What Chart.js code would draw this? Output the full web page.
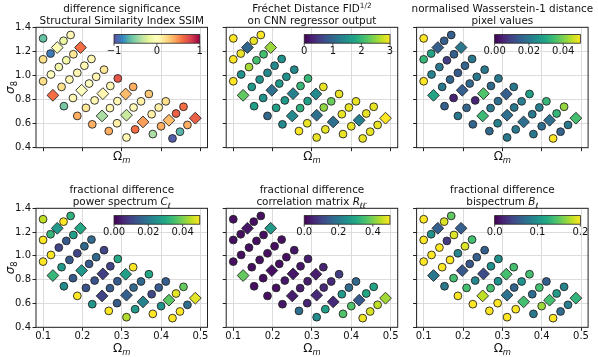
<!DOCTYPE html>
<html>
<head>
<meta charset="utf-8">
<script src="https://cdn.jsdelivr.net/npm/chart.js@4.4.1/dist/chart.umd.min.js"></script>
<style>
  html, body { margin: 0; padding: 0; background: #fff; }
  #wrap { position: relative; width: 598px; height: 357px; }
  #wrap canvas { position: absolute; left: 0; top: 0; }
</style>
</head>
<body>
<div id="wrap"></div>
<script>
// six panels over the same grid of cosmologies (Omega_m, sigma_8)

const FONT = "'DejaVu Sans', sans-serif";

const omegaM = [
  0.100,
  0.100, 0.119, 0.136, 0.152, 0.170,
  0.100, 0.120, 0.140, 0.159, 0.177, 0.195,
  0.125, 0.147, 0.167, 0.187, 0.205, 0.223,
  0.153, 0.176, 0.198, 0.217, 0.235, 0.255,
  0.187, 0.209, 0.231, 0.252, 0.271, 0.290,
  0.225, 0.250, 0.270, 0.289, 0.310, 0.329,
  0.267, 0.288, 0.312, 0.330, 0.349, 0.369,
  0.312, 0.334, 0.354, 0.376, 0.394, 0.412,
  0.379, 0.400, 0.420, 0.438, 0.457,
  0.429, 0.448, 0.467, 0.487
];
const sigma8 = [
  1.308,
  1.134, 1.182, 1.232, 1.288, 1.336,
  0.952, 1.008, 1.070, 1.126, 1.176, 1.232,
  0.835, 0.905, 0.966, 1.022, 1.081, 1.137,
  0.745, 0.813, 0.877, 0.933, 0.989, 1.048,
  0.664, 0.731, 0.793, 0.849, 0.913, 0.975,
  0.594, 0.664, 0.729, 0.787, 0.846, 0.905,
  0.538, 0.603, 0.670, 0.734, 0.785, 0.846,
  0.485, 0.552, 0.614, 0.678, 0.734, 0.785,
  0.513, 0.578, 0.628, 0.684, 0.740,
  0.477, 0.533, 0.589, 0.645
];
// points drawn as diamonds, all others are circles
const diamondIdx = [3, 11, 12, 20, 27, 31, 34, 38, 44, 50, 56];

const ssimSig = [
  -0.6,
  0.2, -0.85, -0.05, -0.15, 0.05,
  0.2, 0.0, -0.1, -0.1, 0.15, 0.6,
  0.6, 0.2, 0.05, 0.05, 0.05, 0.05,
  -0.55, 0.05, 0.0, 0.0, 0.05, 0.15,
  0.4, 0.15, 0.05, 0.05, 0.05, 0.7,
  0.4, -0.4, 0.05, 0.05, 0.35, 0.4,
  0.4, 0.1, -0.3, 0.05, 0.1, 0.3,
  0.05, 0.6, 0.45, 0.1, 0.1, 0.2,
  -0.4, 0.4, 0.35, 0.65, 0.6,
  -0.95, -0.65, 0.4, 0.65
];
const fidCnn = [
  3.0,
  3.0, 2.9, 1.0, 2.9, 3.0,
  3.0, 1.5, 2.6, 2.1, 2.1, 2.55,
  2.25, 1.6, 1.5, 1.4, 1.4, 1.5,
  1.7, 1.5, 1.1, 1.6, 1.5, 1.4,
  1.0, 1.7, 1.6, 1.3, 2.0, 2.0,
  1.4, 1.4, 1.9, 1.7, 1.4, 2.9,
  3.0, 2.9, 1.1, 2.5, 2.3, 2.9,
  2.9, 2.9, 1.1, 2.9, 2.9, 2.9,
  2.9, 2.9, 1.3, 2.9, 2.9,
  2.9, 2.9, 2.9, 3.0
];
const wassPix = [
  0.050,
  0.033, 0.029, 0.015, 0.015, 0.015,
  0.050, 0.022, 0.020, 0.009, 0.015, 0.020,
  0.029, 0.020, 0.016, 0.014, 0.016, 0.020,
  0.015, 0.005, 0.015, 0.017, 0.020, 0.020,
  0.020, 0.016, 0.005, 0.036, 0.017, 0.020,
  0.016, 0.034, 0.020, 0.018, 0.015, 0.020,
  0.017, 0.022, 0.018, 0.020, 0.021, 0.028,
  0.020, 0.020, 0.018, 0.020, 0.021, 0.033,
  0.020, 0.018, 0.018, 0.033, 0.042,
  0.050, 0.016, 0.020, 0.035
];
const powerCl = [
  0.045,
  0.050, 0.033, 0.027, 0.050, 0.032,
  0.050, 0.050, 0.010, 0.014, 0.028, 0.030,
  0.033, 0.027, 0.014, 0.010, 0.017, 0.017,
  0.024, 0.014, 0.026, 0.014, 0.017, 0.010,
  0.050, 0.013, 0.013, 0.009, 0.010, 0.030,
  0.026, 0.010, 0.014, 0.014, 0.028, 0.050,
  0.050, 0.014, 0.015, 0.017, 0.017, 0.030,
  0.044, 0.027, 0.022, 0.011, 0.014, 0.015,
  0.050, 0.025, 0.037, 0.048, 0.038,
  0.050, 0.050, 0.018, 0.048
];
const corrR = [
  0.02,
  0.02, 0.02, 0.03, 0.02, 0.02,
  0.02, 0.02, 0.02, 0.02, 0.02, 0.27,
  0.38, 0.02, 0.02, 0.02, 0.02, 0.02,
  0.02, 0.02, 0.02, 0.02, 0.02, 0.03,
  0.02, 0.02, 0.03, 0.03, 0.03, 0.04,
  0.03, 0.04, 0.04, 0.04, 0.04, 0.05,
  0.18, 0.05, 0.06, 0.06, 0.06, 0.09,
  0.24, 0.28, 0.06, 0.27, 0.17, 0.17,
  0.36, 0.36, 0.14, 0.30, 0.29,
  0.49, 0.47, 0.45, 0.43
];
const bispecB = [
  0.20,
  0.20, 0.10, 0.06, 0.19, 0.15,
  0.20, 0.20, 0.20, 0.035, 0.19, 0.06,
  0.08, 0.20, 0.20, 0.09, 0.19, 0.14,
  0.08, 0.14, 0.055, 0.055, 0.06, 0.06,
  0.20, 0.14, 0.09, 0.045, 0.10, 0.10,
  0.20, 0.18, 0.14, 0.10, 0.14, 0.14,
  0.20, 0.20, 0.075, 0.065, 0.10, 0.14,
  0.20, 0.20, 0.14, 0.07, 0.14, 0.06,
  0.08, 0.17, 0.14, 0.11, 0.09,
  0.20, 0.07, 0.085, 0.13
];

const xTicks = [0.1, 0.2, 0.3, 0.4, 0.5];
const yTicks = [0.4, 0.6, 0.8, 1.0, 1.2, 1.4];

const viridisStops = ['#440154', '#482475', '#414487', '#355f8d', '#2a788e', '#21918c',
                      '#22a884', '#44bf70', '#7ad151', '#bddf26', '#fde725'];
const spectralRStops = ['#5e4fa2', '#3288bd', '#66c2a5', '#abdda4', '#e6f598', '#ffffbf',
                        '#fee08b', '#fdae61', '#f46d43', '#d53e4f', '#9e0142'];

const panels = [
  { row: 0, col: 0, values: ssimSig, stops: spectralRStops, vmin: -1, vmax: 1,
    cbTicks: [-1, 0, 1], cbLabels: ['\u22121', '0', '1'],
    title: [[{ t: 'difference significance' }], [{ t: 'Structural Similarity Index SSIM' }]] },
  { row: 0, col: 1, values: fidCnn, stops: viridisStops, vmin: 0, vmax: 3,
    cbTicks: [0, 1, 2, 3], cbLabels: ['0', '1', '2', '3'],
    title: [[{ t: 'Fr\u00e9chet Distance FID' }, { t: '1/2', sup: true }], [{ t: 'on CNN regressor output' }]] },
  { row: 0, col: 2, values: wassPix, stops: viridisStops, vmin: 0, vmax: 0.05,
    cbTicks: [0, 0.02, 0.04], cbLabels: ['0.00', '0.02', '0.04'],
    title: [[{ t: 'normalised Wasserstein-1 distance' }], [{ t: 'pixel values' }]] },
  { row: 1, col: 0, values: powerCl, stops: viridisStops, vmin: 0, vmax: 0.05,
    cbTicks: [0, 0.02, 0.04], cbLabels: ['0.00', '0.02', '0.04'],
    title: [[{ t: 'fractional difference' }], [{ t: 'power spectrum ' }, { t: 'C', it: true }, { t: '\u2113', it: true, sub: true }]] },
  { row: 1, col: 1, values: corrR, stops: viridisStops, vmin: 0, vmax: 0.5,
    cbTicks: [0, 0.2, 0.4], cbLabels: ['0.0', '0.2', '0.4'],
    title: [[{ t: 'fractional difference' }], [{ t: 'correlation matrix ' }, { t: 'R', it: true }, { t: '\u2113\u2113\u2032', it: true, sub: true }]] },
  { row: 1, col: 2, values: bispecB, stops: viridisStops, vmin: 0, vmax: 0.2,
    cbTicks: [0, 0.1, 0.2], cbLabels: ['0.0', '0.1', '0.2'],
    title: [[{ t: 'fractional difference' }], [{ t: 'bispectrum ' }, { t: 'B', it: true }, { t: '\u2113', it: true, sub: true }]] }
];

// plot area boxes
const colLeft = [36, 226.2, 416.6];
const plotW = 171.5;
const rowTop = [27.3, 208.3];
const rowH = [120.4, 119];
const Y_W = 30, X_H = 20;
const W = 598, H = 357;

function hexRgb(h) {
  return [parseInt(h.slice(1, 3), 16), parseInt(h.slice(3, 5), 16), parseInt(h.slice(5, 7), 16)];
}

function cmapColor(stops, t) {
  t = Math.max(0, Math.min(1, t));
  const pos = t * (stops.length - 1);
  const i = Math.min(stops.length - 2, Math.floor(pos));
  const f = pos - i;
  const a = hexRgb(stops[i]), b = hexRgb(stops[i + 1]);
  const c = a.map((v, k) => Math.round(v + (b[k] - v) * f));
  return 'rgb(' + c.join(',') + ')';
}

// draw a line of text made of runs (italic / sub / sup), centred on cx
function drawRuns(ctx, runs, cx, cy, size) {
  const parts = runs.map(r => {
    const s = (r.sub || r.sup) ? size * 0.7 : size;
    const font = (r.it ? 'italic ' : '') + s + 'px ' + FONT;
    ctx.font = font;
    return { t: r.t, font, w: ctx.measureText(r.t).width, dy: r.sub ? size * 0.25 : (r.sup ? -size * 0.42 : 0) };
  });
  const total = parts.reduce((s, p) => s + p.w, 0);
  let x = cx - total / 2;
  const base = cy + size * 0.36;
  ctx.textAlign = 'left';
  ctx.textBaseline = 'alphabetic';
  parts.forEach(p => {
    ctx.font = p.font;
    ctx.fillText(p.t, x, base + p.dy);
    x += p.w;
  });
}

const decorPlugin = {
  id: 'panelDecor',
  afterDraw(chart, args, opts) {
    const p = opts.panel;
    const ctx = chart.ctx;
    const a = chart.chartArea;
    const w = a.right - a.left, h = a.bottom - a.top;
    ctx.save();

    // frame
    ctx.strokeStyle = '#222';
    ctx.lineWidth = 1;
    ctx.strokeRect(a.left, a.top, w, h);

    // inset colour bar
    const bx = a.left + 0.455 * w, bw = 0.5 * w;
    const by = a.top + 7.3, bh = 8.6;
    const grad = ctx.createLinearGradient(bx, 0, bx + bw, 0);
    p.stops.forEach((c, k) => grad.addColorStop(k / (p.stops.length - 1), c));
    ctx.fillStyle = grad;
    ctx.fillRect(bx, by, bw, bh);
    ctx.lineWidth = 0.8;
    ctx.strokeRect(bx, by, bw, bh);
    ctx.fillStyle = '#111';
    ctx.font = '10px ' + FONT;
    ctx.textAlign = 'center';
    ctx.textBaseline = 'middle';
    p.cbTicks.forEach((v, k) => {
      const tx = bx + (v - p.vmin) / (p.vmax - p.vmin) * bw;
      ctx.beginPath();
      ctx.moveTo(tx, by + bh);
      ctx.lineTo(tx, by + bh + 2.5);
      ctx.stroke();
      ctx.fillText(p.cbLabels[k], tx, by + bh + 8);
    });

    // title
    const cx = (a.left + a.right) / 2;
    drawRuns(ctx, p.title[0], cx, a.top - 19, 10.4);
    drawRuns(ctx, p.title[1], cx, a.top - 7, 10.4);

    // axis labels
    drawRuns(ctx, [{ t: '\u03a9' }, { t: 'm', it: true, sub: true }], cx, a.bottom + (p.row === 1 ? 20 : 7.5), 12);
    if (p.col === 0) {
      ctx.translate(10, (a.top + a.bottom) / 2);
      ctx.rotate(-Math.PI / 2);
      drawRuns(ctx, [{ t: '\u03c3', it: true }, { t: '8', sub: true }], 0, 0, 12);
    }
    ctx.restore();
  }
};

const wrap = document.getElementById('wrap');

function makePanel(p) {
  const canvas = document.createElement('canvas');
  canvas.width = W;
  canvas.height = H;
  wrap.appendChild(canvas);

  const left = colLeft[p.col], top = rowTop[p.row];
  const right = left + plotW, bottom = top + rowH[p.row];
  const pts = omegaM.map((x, i) => ({ x: x, y: sigma8[i], v: p.values[i] }));
  const circles = pts.filter((d, i) => !diamondIdx.includes(i));
  const diamonds = pts.filter((d, i) => diamondIdx.includes(i));
  const fill = c => cmapColor(p.stops, (c.raw.v - p.vmin) / (p.vmax - p.vmin));

  const gridOpts = { color: '#dcdcdc', lineWidth: 1, tickLength: 3.5, tickColor: '#222', drawTicks: true };
  const tickFont = { family: FONT, size: 10 };

  new Chart(canvas, {
    type: 'scatter',
    data: {
      datasets: [
        { data: circles, pointStyle: 'circle', pointRadius: 3.9, backgroundColor: fill,
          borderColor: '#262626', borderWidth: 0.9 },
        { data: diamonds, pointStyle: 'rectRot', pointRadius: 5.9, backgroundColor: fill,
          borderColor: '#262626', borderWidth: 0.9 }
      ]
    },
    options: {
      responsive: false,
      animation: false,
      devicePixelRatio: 1,
      events: [],
      layout: { padding: { left: left - Y_W, top: top, right: W - right, bottom: H - bottom - X_H } },
      plugins: {
        legend: { display: false },
        tooltip: { enabled: false },
        panelDecor: { panel: p }
      },
      scales: {
        x: {
          type: 'linear', min: 0.082, max: 0.518,
          afterBuildTicks: ax => { ax.ticks = xTicks.map(v => ({ value: v })); },
          afterFit: s => { s.height = X_H; },
          grid: gridOpts,
          border: { display: false },
          ticks: { display: p.row === 1, font: tickFont, color: '#111', padding: 0,
                   maxRotation: 0, autoSkip: false, callback: v => v.toFixed(1) }
        },
        y: {
          type: 'linear', min: 0.4, max: 1.4,
          afterBuildTicks: ax => { ax.ticks = yTicks.map(v => ({ value: v })); },
          afterFit: s => { s.width = Y_W; },
          grid: gridOpts,
          border: { display: false },
          ticks: { display: p.col === 0, font: tickFont, color: '#111', padding: 1.5,
                   autoSkip: false, callback: v => v.toFixed(1) }
        }
      }
    },
    plugins: [decorPlugin]
  });
}

panels.forEach(makePanel);
</script>
</body>
</html>
